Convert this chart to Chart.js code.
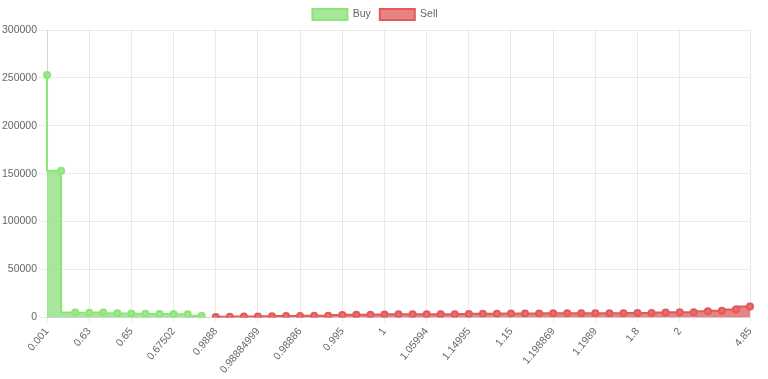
<!DOCTYPE html>
<html>
<head>
<meta charset="utf-8">
<script src="https://cdn.jsdelivr.net/npm/chart.js@4/dist/chart.umd.min.js"></script>
<style>
  body { margin: 0; background: #fff; }
  #wrap { width: 768px; height: 379px; }
</style>
</head>
<body>
<div id="wrap"><canvas id="depthChart" width="768" height="379"></canvas></div>
<script>
// price levels (category axis)
const prices = [
  "0.001", "0.5", "0.6", "0.63", "0.64", "0.645", "0.65", "0.66", "0.67", "0.67502", "0.68", "0.7",
  "0.9888", "0.98882", "0.98884", "0.98884999", "0.98885", "0.988855", "0.98886", "0.9889", "0.99",
  "0.995", "0.998", "0.999", "1", "1.01", "1.05", "1.05994", "1.1", "1.12", "1.14995", "1.14997",
  "1.14999", "1.15", "1.17", "1.19", "1.198869", "1.19887", "1.19888", "1.1989", "1.2", "1.5",
  "1.8", "1.9", "1.99", "2", "2.2", "2.5", "3", "4", "4.85"
];

// cumulative buy depth (bids), then nulls where asks start
const buyDepth = [
  253000, 153000, 5200, 4800, 5000, 4300, 4200, 3700, 3600, 3500, 3400, 1600,
  null, null, null, null, null, null, null, null, null, null, null, null, null, null, null,
  null, null, null, null, null, null, null, null, null, null, null, null, null, null, null,
  null, null, null, null, null, null, null, null, null
];

// cumulative sell depth (asks)
const sellDepth = [
  null, null, null, null, null, null, null, null, null, null, null, null,
  300, 700, 1000, 1000, 1300, 1400, 1400, 1700, 1800, 2400, 2700, 2800, 3100,
  3300, 3400, 3400, 3400, 3400, 3500, 3700, 3800, 4000, 4100, 4200, 4300,
  4300, 4300, 4300, 4400, 4400, 4500, 4700, 5200, 5400, 5500, 6500, 6900, 8200, 11500
];

const yTicks = [0, 50000, 100000, 150000, 200000, 250000, 300000];

// which labels are shown on the x axis
const shownLabels = ["0.001", "0.63", "0.65", "0.67502", "0.9888", "0.98884999", "0.98886", "0.995",
  "1", "1.05994", "1.14995", "1.15", "1.198869", "1.1989", "1.8", "2", "4.85"];

Chart.defaults.font.family = "'Liberation Sans', Arial, sans-serif";
Chart.defaults.font.size = 10.5;
Chart.defaults.color = "#666";

const ctx = document.getElementById("depthChart").getContext("2d");

new Chart(ctx, {
  type: "line",
  data: {
    labels: prices,
    datasets: [
      {
        label: "Buy",
        data: buyDepth,
        stepped: "after",
        fill: "origin",
        borderColor: "rgb(140, 230, 115)",
        backgroundColor: "rgba(144, 225, 130, 0.8)",
        pointBackgroundColor: "rgb(160, 232, 140)",
        pointBorderColor: "rgb(140, 230, 115)",
        borderWidth: 2,
        pointRadius: 3,
        spanGaps: false,
      },
      {
        label: "Sell",
        data: sellDepth,
        stepped: "after",
        fill: "origin",
        borderColor: "rgb(226, 90, 90)",
        backgroundColor: "rgba(226, 100, 100, 0.8)",
        pointBackgroundColor: "rgb(230, 110, 110)",
        pointBorderColor: "rgb(226, 90, 90)",
        borderWidth: 2,
        pointRadius: 3,
        spanGaps: false,
      },
    ],
  },
  options: {
    responsive: false,
    animation: false,
    layout: { padding: { right: 18, left: 0, top: 0, bottom: 0 } },
    plugins: {
      legend: {
        display: true,
        position: "top",
        labels: { boxWidth: 35, boxHeight: 11, padding: 9 },
      },
      tooltip: { enabled: false },
    },
    scales: {
      x: {
        grid: { color: "rgba(0,0,0,0.08)", tickLength: 5 },
        ticks: {
          autoSkip: false,
          maxRotation: 50,
          minRotation: 50,
          callback: function (value, index) {
            const label = prices[index];
            return shownLabels.includes(label) ? label : null;
          },
        },
      },
      y: {
        min: 0,
        max: 300000,
        grid: { color: "rgba(0,0,0,0.08)" },
        ticks: {
          stepSize: 50000,
          padding: 2,
          callback: (v) => (yTicks.includes(v) ? String(v) : null),
        },
      },
    },
  },
});
</script>
</body>
</html>
